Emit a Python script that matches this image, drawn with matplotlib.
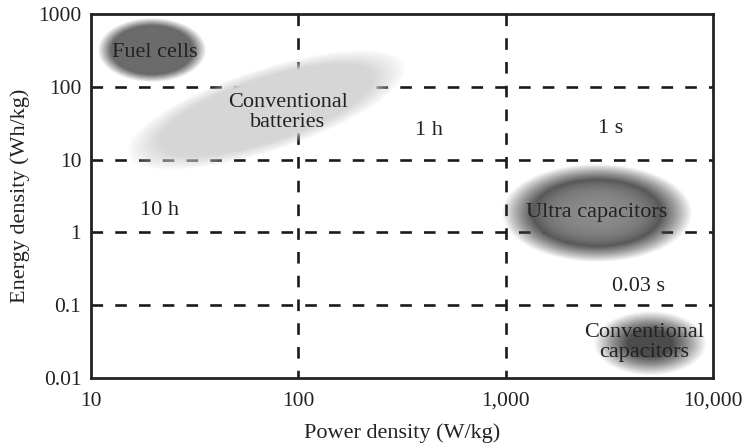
import matplotlib
matplotlib.use('Agg')
import matplotlib.pyplot as plt
from matplotlib.patches import Ellipse
from matplotlib.transforms import ScaledTranslation
from matplotlib.ticker import NullLocator
import numpy as np

plt.rcParams['font.family'] = ['Liberation Serif', 'DejaVu Serif']

# ---- data ----
x_ticks = [10, 100, 1000, 10000]
x_tick_labels = ['10', '100', '1,000', '10,000']
y_ticks = [0.01, 0.1, 1, 10, 100, 1000]
y_tick_labels = ['0.01', '0.1', '1', '10', '100', '1000']
grid_x = [100, 1000]
grid_y = [0.1, 1, 10, 100]

regions = ['Fuel cells', 'Conventional batteries', 'Ultra capacitors', 'Conventional capacitors']
region_power = [19.7, 70, 2760, 4980]      # W/kg (centre of region)
region_energy = [320, 48, 1.85, 0.030]     # Wh/kg (centre of region)

label_text = ['Fuel cells', 'Conventional\nbatteries', 'Ultra capacitors',
              'Conventional\ncapacitors', '1 h', '1 s', '10 h', '0.03 s']
label_power = [20.4, 89, 2750, 4650, 425, 3210, 21.5, 4385]
label_energy = [300, 44, 1.85, 0.031, 25.5, 27, 1.97, 0.178]

# ---- styles (blob sizes in pixels, angle in degrees) ----
blob_w = [108, 292, 190, 112]
blob_h = [64, 82, 98, 64]
blob_angle = [0, 18, 0, 0]
blob_outer = ['#686868', '#d6d6d6', '#555555', '#4c4c4c']
blob_inner = ['#727272', '#d9d9d9', '#939393', '#525252']
blob_soft = [0.25, 0.25, 0.33, 0.6]

FS = 16
fig = plt.figure(figsize=(7.42, 4.47), dpi=100)
ax = fig.add_axes([91 / 742, 1 - 378 / 447, (713 - 91) / 742, (378 - 14) / 447])
ax.set_xscale('log')
ax.set_yscale('log')
ax.set_xlim(x_ticks[0], x_ticks[-1])
ax.set_ylim(y_ticks[0], y_ticks[-1])
ax.set_xticks(x_ticks)
ax.set_xticklabels(x_tick_labels)
ax.set_yticks(y_ticks)
ax.set_yticklabels(y_tick_labels)
ax.xaxis.set_minor_locator(NullLocator())
ax.yaxis.set_minor_locator(NullLocator())
ax.tick_params(length=0, labelsize=15.5, colors='#222222')
ax.tick_params(axis='x', pad=10)
ax.tick_params(axis='y', pad=7)
for s in ax.spines.values():
    s.set_linewidth(2.0)
    s.set_color('#222222')
    s.set_zorder(5)

# dashed grid
ls = (0, (4.4, 4.6))
for gx in grid_x:
    ax.plot([gx, gx], [y_ticks[-1], y_ticks[0]], color='#1a1a1a', lw=1.9, ls=ls, zorder=1)
for gy in grid_y:
    ax.plot([x_ticks[0], x_ticks[-1]], [gy, gy], color='#1a1a1a', lw=1.9, ls=ls, zorder=1)


def blob(x, y, w, h, ang, c_out, c_in, soft):
    trans = fig.dpi_scale_trans + ScaledTranslation(x, y, ax.transData)
    n = 40
    # linear opacity ramp from the outer edge (scale 1) to (1 - soft)
    for k in range(1, n + 1):
        s = 1 - soft * (k - 1) / (n - 1)
        a = 1.0 / (n - k + 1)
        ax.add_patch(Ellipse((0, 0), w * s / 100, h * s / 100, angle=ang, transform=trans,
                             facecolor=c_out, edgecolor='none', alpha=a, zorder=2))
    m = 20
    for j in range(m):
        t = j / (m - 1)
        s = (1 - soft) * (1.0 - 0.8 * t)
        ax.add_patch(Ellipse((0, 0), w * s / 100, h * s / 100, angle=ang, transform=trans,
                             facecolor=c_in, edgecolor='none', alpha=0.13, zorder=2))


for i in range(len(regions)):
    blob(region_power[i], region_energy[i], blob_w[i], blob_h[i], blob_angle[i],
         blob_outer[i], blob_inner[i], blob_soft[i])

for t, px, py in zip(label_text, label_power, label_energy):
    ax.text(px, py, t, ha='center', va='center', fontsize=FS, color='#222222',
            linespacing=1.1, zorder=4)

ax.set_xlabel('Power density (W/kg)', fontsize=FS, color='#222222', labelpad=9)
ax.set_ylabel('Energy density (Wh/kg)', fontsize=FS, color='#222222', labelpad=6)

fig.savefig('out.png', dpi=100)
